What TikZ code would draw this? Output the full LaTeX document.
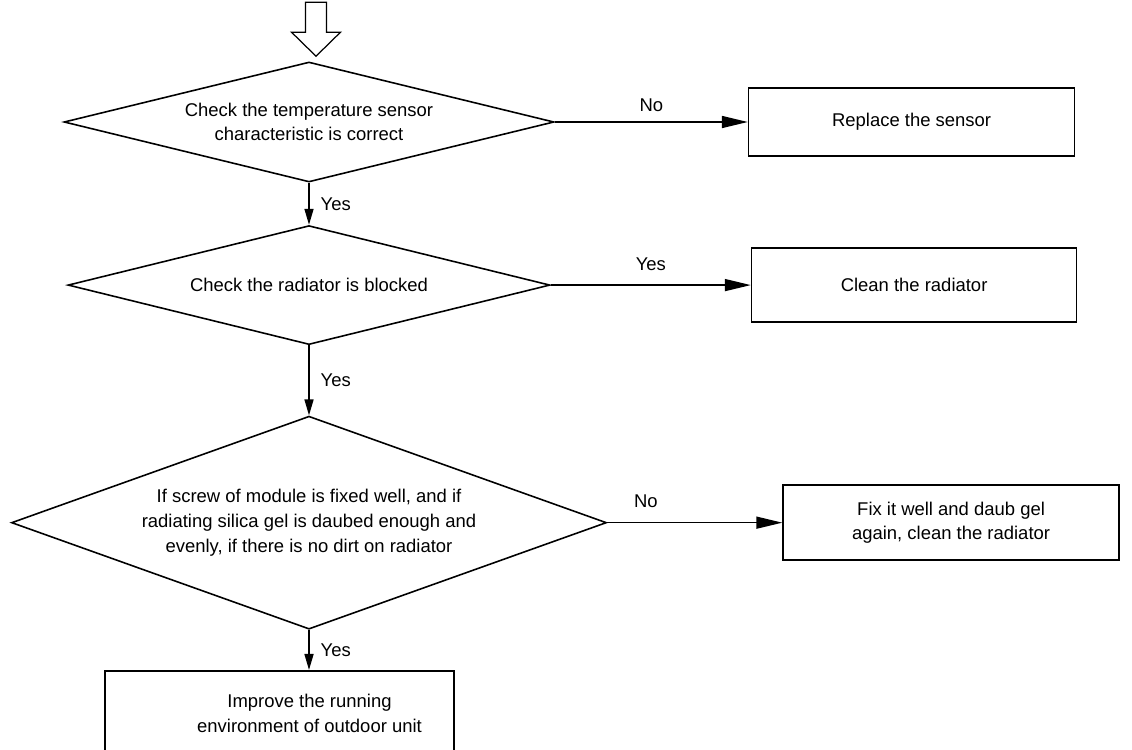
\documentclass[tikz,border=0pt]{standalone}
\usepackage{fontspec}
\setmainfont{Liberation Sans}
\usetikzlibrary{arrows.meta,positioning,shapes.geometric,calc}
\tikzset{
    decision/.style={
        draw,
        diamond,
        align=center,
        inner sep=0pt
    },
    box/.style={
        draw,
        align=center,
        inner sep=2pt
    },
    hflow/.style={-{Triangle[length=5.2mm,width=2.4mm]}},
    vflow/.style={-{Triangle[length=3.2mm,width=1.8mm]}}
}

\begin{document}
\begin{tikzpicture}[font=\fontsize{10.5}{14}\selectfont, line width=0.9pt]
        \useasboundingbox (0,0) rectangle (22.64,-14.98);
        \clip (0,0) rectangle (22.64,-14.98);

        \node[decision, aspect=4.08, minimum width=9.8cm, minimum height=2.4cm] (sensor) at (6.18,-2.44) {Check the temperature sensor\\characteristic is correct};
        \node[decision, aspect=4.05, minimum width=9.64cm, minimum height=2.38cm, below=0.84cm of sensor] (radiator) {Check the radiator is blocked};
        \node[decision, aspect=2.72, minimum width=11.9cm, minimum height=4.26cm, below=1.4cm of radiator] (screw) {If screw of module is fixed well, and if\\radiating silica gel is daubed enough and\\evenly, if there is no dirt on radiator};

        \node[box, minimum width=6.52cm, minimum height=1.36cm, right=3.86cm of sensor] (replace) {Replace the sensor};
        \node[box, minimum width=6.5cm, minimum height=1.48cm, right=4.0cm of radiator] (clean) {Clean the radiator};
        \node[box, minimum width=6.72cm, minimum height=1.5cm, right=3.5cm of screw] (fix) {Fix it well and daub gel\\again, clean the radiator};
        \node[box, minimum width=6.98cm, minimum height=2.1cm, below=0.8cm of screw, xshift=-0.59cm] (unit) {};
        \node[align=center] at ($(unit.center)+(0.6,0.2)$) (unittext) {Improve the running\\environment of outdoor unit};

        % entry arrow
        \coordinate (entry) at ($(sensor.north)+(0.14,0.1)$);
        \draw[line width=0.7pt] (entry) -- ++(-0.49,0.48) -- ++(0.28,0) -- ++(0,0.6) -- ++(0.42,0) -- ++(0,-0.6) -- ++(0.28,0) -- cycle;

        \draw[hflow] (sensor) -- node[above=0.08cm]{No} (replace);
        \draw[hflow] (radiator) -- node[above=0.16cm]{Yes} (clean);
        \draw[hflow] (screw) -- node[pos=0.22, above=0.16cm]{No} (fix);
        \draw[vflow] (sensor) -- node[right=0.1cm]{Yes} (radiator);
        \draw[vflow] (radiator) -- node[right=0.1cm]{Yes} (screw);
        \draw[vflow] (screw.south) -- node[right=0.1cm]{Yes} (screw.south |- unit.north);
    \end{tikzpicture}
\end{document}
